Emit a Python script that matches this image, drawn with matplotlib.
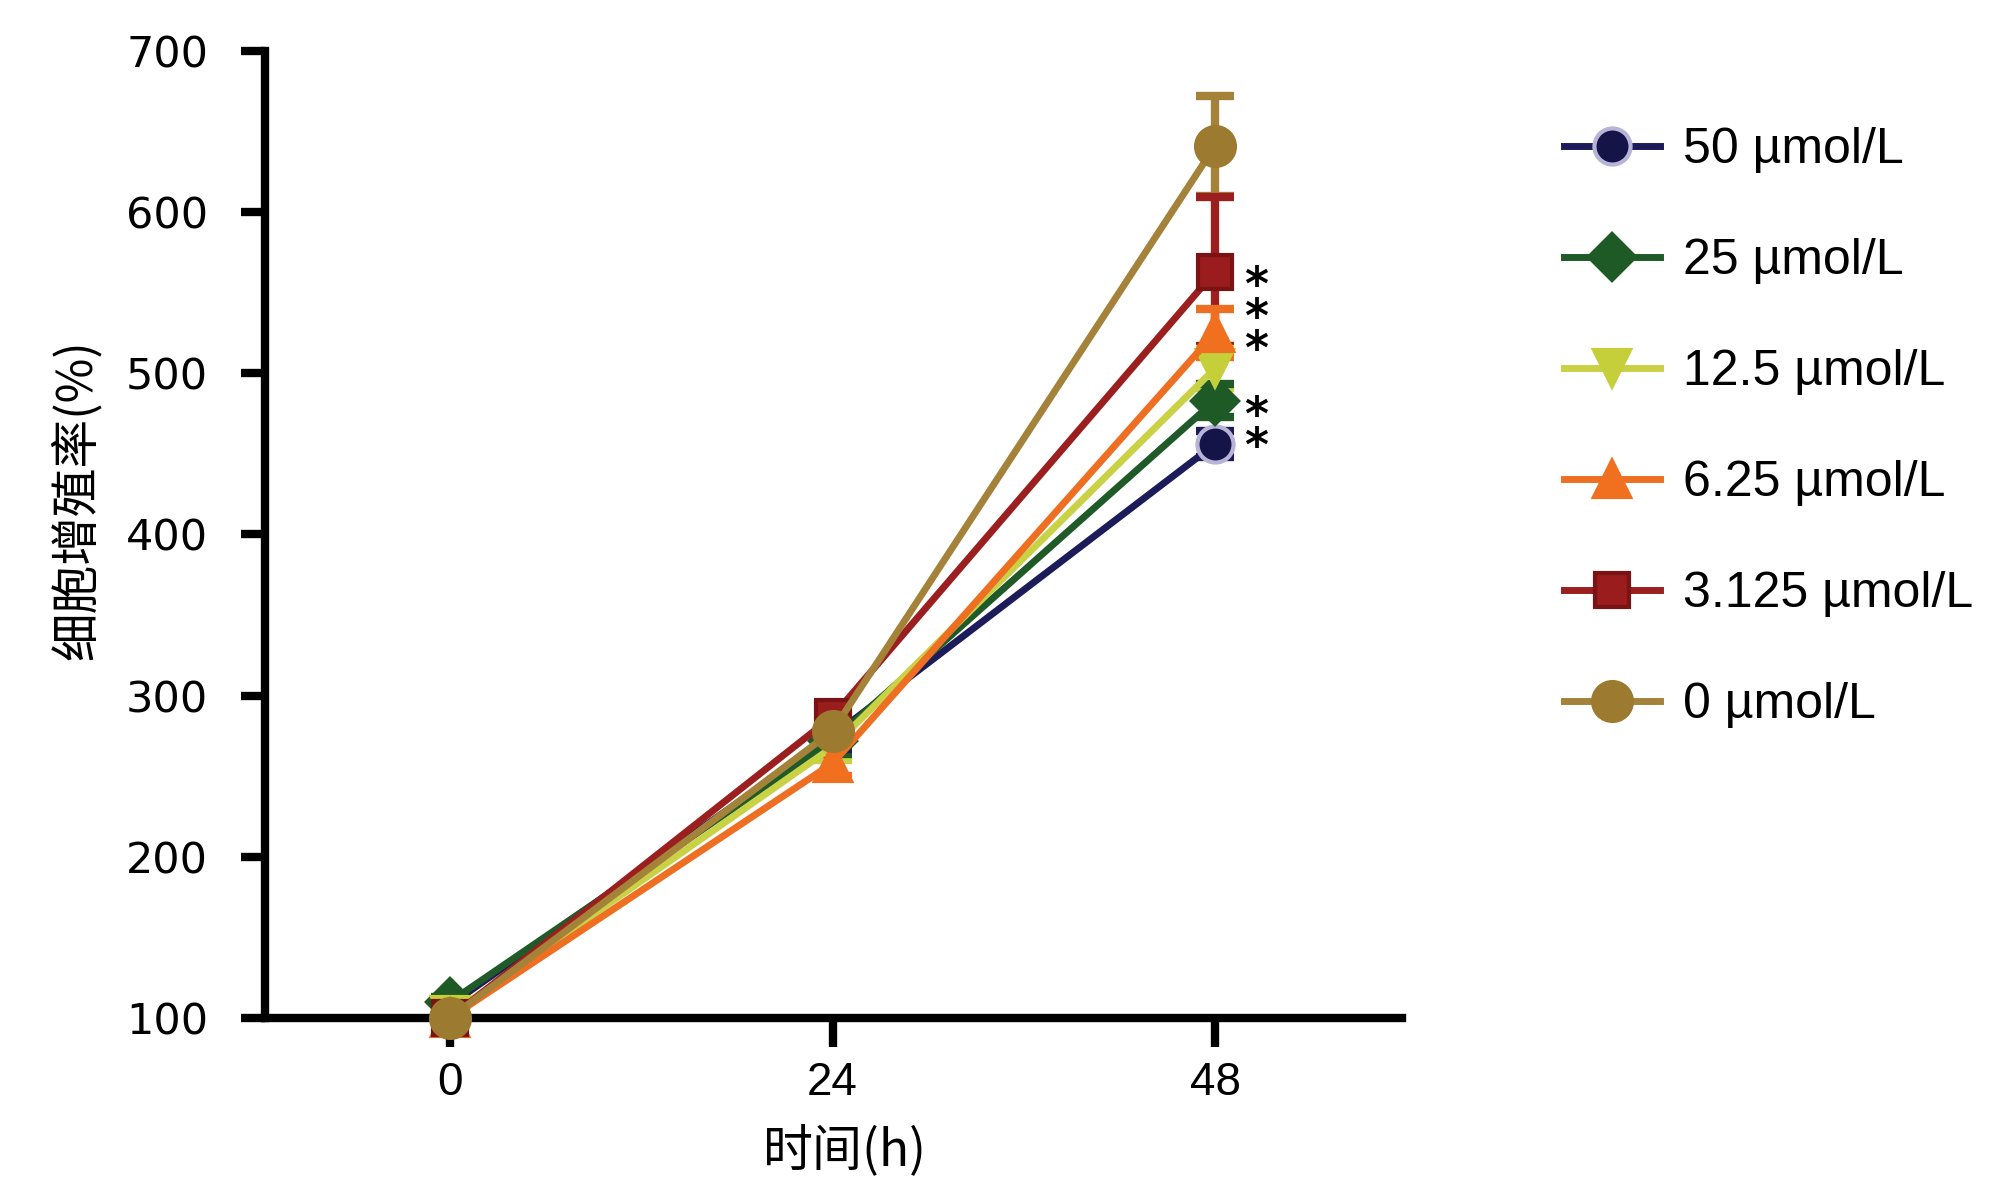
import matplotlib
matplotlib.use('Agg')
import matplotlib.pyplot as plt

plt.rcParams['font.family'] = ['Liberation Sans', 'Noto Sans CJK SC', 'DejaVu Sans']

# data
times = [0, 24, 48]
xticks = ['0', '24', '48']
yticks = [100, 200, 300, 400, 500, 600, 700]
labels = ['50 µmol/L', '25 µmol/L', '12.5 µmol/L', '6.25 µmol/L', '3.125 µmol/L', '0 µmol/L']

c50 = [108, 275, 456]
c25 = [110, 272, 483]
c12_5 = [102, 268, 503]
c6_25 = [100, 258, 525]
c3_125 = [100, 287, 563]
c0 = [100, 278, 641]

e50 = [3, 8, 8]
e25 = [3, 8, 10]
e12_5 = [3, 8, 12]
e6_25 = [3, 8, 15]
e3_125 = [3, 8, 46]
e0 = [3, 8, 31]

# significance stars beside 48 h
star_y = [562, 542, 522, 481, 462]

means = [c50, c25, c12_5, c6_25, c3_125, c0]
errs = [e50, e25, e12_5, e6_25, e3_125, e0]
colors = ['#1c1c5a', '#1f5a28', '#c9d245', '#ee6f22', '#9c1f1f', '#a5823a']
faces = ['#141448', '#1d5a26', '#c4cf3a', '#f07020', '#9a1c1c', '#9c7a30']
edges = ['#b8b4d8', '#1d5a26', '#c4cf3a', '#f07020', '#7a1414', '#9c7a30']
markers = ['o', 'D', 'v', '^', 's', 'o']
msizes = [26, 23, 26, 26, 24, 28]

fig = plt.figure(figsize=(20.08, 12), dpi=100)
ax = fig.add_axes([0.132, 0.1517, 0.566, 0.806])

# error bars first, 0 µmol/L at the bottom
for m, e, c in list(zip(means, errs, colors))[::-1]:
    ax.errorbar(times, m, yerr=e, fmt='none', ecolor=c, elinewidth=6,
                capsize=14, capthick=6, clip_on=False, zorder=2)

handles = []
for m, c, fc, ec, mk, ms, lab in zip(means, colors, faces, edges, markers, msizes, labels):
    h, = ax.plot(times, m, color=c, lw=5, marker=mk, ms=ms, mfc=fc, mec=ec,
                 mew=3, clip_on=False, label=lab, zorder=3)
    handles.append(h)

for y in star_y:
    ax.annotate('*', xy=(48, y), xytext=(21, -19), textcoords='offset points',
                ha='left', va='baseline', fontsize=33, fontweight='bold',
                family='DejaVu Sans')

ax.set_xlim(-11.6, 59.7)
ax.set_ylim(100, 700)
ax.set_xticks(times)
ax.set_xticklabels(xticks, fontsize=33)
ax.set_yticks(yticks)
ax.set_yticklabels([str(v) for v in yticks], fontsize=31, family='DejaVu Sans')

for s in ['top', 'right']:
    ax.spines[s].set_visible(False)
for s in ['left', 'bottom']:
    ax.spines[s].set_linewidth(6)
ax.tick_params(axis='y', length=17, width=6, pad=24)
ax.tick_params(axis='x', length=21, width=6, pad=10)

fig.text(0.038, 0.584, '细胞增殖率(%)', rotation=90, ha='center', va='center',
         fontsize=35, family=['Noto Sans CJK SC', 'DejaVu Sans'])
fig.text(0.421, 0.04, '时间(h)', ha='center', va='center',
         fontsize=36, family=['Noto Sans CJK SC', 'DejaVu Sans'])

fig.legend(handles=handles, loc='upper left', bbox_to_anchor=(0.779, 0.894),
           frameon=False, fontsize=36, handlelength=1.92, handletextpad=0.46,
           labelspacing=1.3, borderpad=0, borderaxespad=0)

fig.savefig('out.png', dpi=100)
